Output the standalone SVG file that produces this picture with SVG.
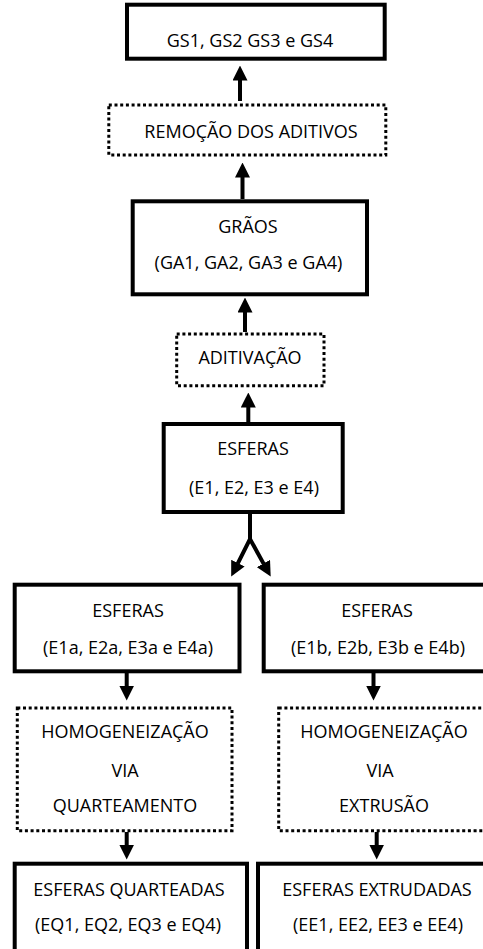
<svg xmlns="http://www.w3.org/2000/svg" width="483" height="949" viewBox="0 0 483 949">
  <style>
    .solid { fill: #fff; stroke: #000; stroke-width: 4; }
    .dotted { fill: #fff; stroke: #000; stroke-width: 3; stroke-dasharray: 3 2.7; }
    text { font-family: "Open Sans", "Liberation Sans", sans-serif; font-size: 18px; text-anchor: middle; fill: #000; }
    .conn line, .conn path { stroke: #000; stroke-width: 4; fill: none; }
  </style>
  <defs>
    <marker id="head" viewBox="0 0 15 15" markerUnits="userSpaceOnUse" markerWidth="15" markerHeight="15" refX="0.5" refY="7.5" orient="auto-start-reverse">
      <path d="M0,0 L15,7.5 L0,15 z" fill="#000"/>
    </marker>
  </defs>
  <rect x="0" y="0" width="483" height="949" fill="#fff"/>

  <g class="conn" id="connectors">
    <line x1="240" y1="101" x2="240" y2="80" marker-end="url(#head)"/>
    <line x1="242.5" y1="199" x2="242.5" y2="177" marker-end="url(#head)"/>
    <line x1="245" y1="332" x2="245" y2="312" marker-end="url(#head)"/>
    <line x1="248.3" y1="422" x2="248.3" y2="407" marker-end="url(#head)"/>
    <line x1="250" y1="514" x2="250" y2="541"/>
    <path d="M237.7,563.6 L250,539 L263.7,563.9" marker-start="url(#head)" marker-end="url(#head)"/>
    <line x1="126.7" y1="673" x2="126.7" y2="686" marker-end="url(#head)"/>
    <line x1="373.5" y1="673" x2="373.5" y2="686" marker-end="url(#head)"/>
    <line x1="126.7" y1="832" x2="126.7" y2="845" marker-end="url(#head)"/>
    <line x1="376.7" y1="832" x2="376.7" y2="845" marker-end="url(#head)"/>
  </g>

  <g id="gs">
    <rect class="solid" x="127" y="4.7" width="257.7" height="54"/>
    <text x="250" y="46.5">GS1, GS2 GS3 e GS4</text>
  </g>
  <g id="remocao">
    <rect class="dotted" x="108.8" y="105" width="277" height="50"/>
    <text x="251" y="137.5">REMOÇÃO DOS ADITIVOS</text>
  </g>
  <g id="graos">
    <rect class="solid" x="132.7" y="201.3" width="234.3" height="93"/>
    <text x="248" y="232.5">GRÃOS</text>
    <text x="248.5" y="268.5">(GA1, GA2, GA3 e GA4)</text>
  </g>
  <g id="aditivacao">
    <rect class="dotted" x="176.7" y="334" width="147.3" height="51.7"/>
    <text x="250" y="364">ADITIVAÇÃO</text>
  </g>
  <g id="esferas">
    <rect class="solid" x="163.7" y="424" width="179" height="88"/>
    <text x="253" y="455">ESFERAS</text>
    <text x="254" y="494">(E1, E2, E3 e E4)</text>
  </g>
  <g id="esferas-a">
    <rect class="solid" x="14.7" y="584.7" width="224.8" height="86.6"/>
    <text x="128" y="616.7">ESFERAS</text>
    <text x="128" y="654">(E1a, E2a, E3a e E4a)</text>
  </g>
  <g id="esferas-b">
    <rect class="solid" x="263.7" y="584.7" width="235" height="86.6"/>
    <text x="377" y="616.7">ESFERAS</text>
    <text x="378" y="654">(E1b, E2b, E3b e E4b)</text>
  </g>
  <g id="homog-quarteamento">
    <rect class="dotted" x="17.3" y="708" width="214.7" height="122.7"/>
    <text x="125" y="738">HOMOGENEIZAÇÃO</text>
    <text x="125" y="776.7">VIA</text>
    <text x="125" y="811.7">QUARTEAMENTO</text>
  </g>
  <g id="homog-extrusao">
    <rect class="dotted" x="278.7" y="708" width="220" height="122.7"/>
    <text x="384" y="738">HOMOGENEIZAÇÃO</text>
    <text x="380" y="776.7">VIA</text>
    <text x="384" y="811.7">EXTRUSÃO</text>
  </g>
  <g id="esferas-quarteadas">
    <rect class="solid" x="14.7" y="863.7" width="232.3" height="100"/>
    <text x="129" y="896">ESFERAS QUARTEADAS</text>
    <text x="128" y="931">(EQ1, EQ2, EQ3 e EQ4)</text>
  </g>
  <g id="esferas-extrudadas">
    <rect class="solid" x="258" y="863.7" width="240" height="100"/>
    <text x="377" y="896">ESFERAS EXTRUDADAS</text>
    <text x="378" y="931">(EE1, EE2, EE3 e EE4)</text>
  </g>
</svg>
